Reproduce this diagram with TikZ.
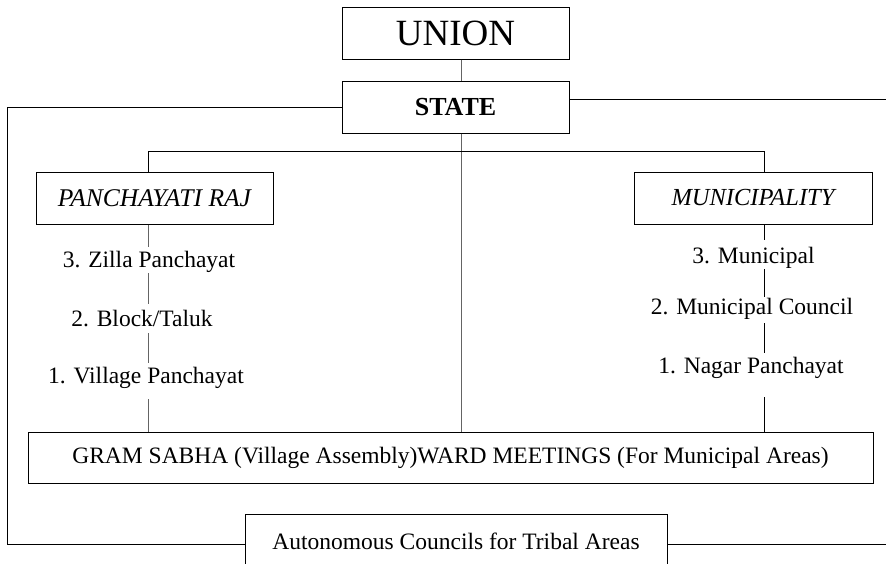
\documentclass[tikz,border=0pt]{standalone}
\usepackage{fontspec}
\setmainfont{Liberation Serif}
\usetikzlibrary{calc}
\definecolor{conn}{RGB}{100,100,100}
\tikzset{
  box/.style={draw=black, line width=1pt, inner sep=0pt, anchor=center},
  lbl/.style={inner sep=0pt, text height=16pt, text depth=5pt, anchor=center, font=\fontsize{23.5}{26}\selectfont},
  gline/.style={draw=conn, line width=1pt},
  bline/.style={draw=black, line width=1pt}
}
\begin{document}
\begin{tikzpicture}[x=1pt,y=-1pt]
\useasboundingbox (0,0) rectangle (886,563);
% main boxes
\node[box, minimum width=227pt, minimum height=52pt, font=\fontsize{37}{40}\selectfont] (union) at (455.5,33) {UNION};
\node[box, minimum width=227pt, minimum height=52pt, font=\fontsize{26}{29}\selectfont\bfseries] (state) at (455.5,107) {STATE};
\node[box, minimum width=237pt, minimum height=52pt, font=\fontsize{25.5}{28}\selectfont\itshape] (pr) at (154.5,198) {PANCHAYATI RAJ};
\node[box, minimum width=238pt, minimum height=52pt, font=\fontsize{24.5}{27}\selectfont\itshape] (mun) at (753,198) {MUNICIPALITY};
\node[box, minimum width=845pt, minimum height=51pt, font=\fontsize{23.5}{26}\selectfont] (gram) at (450.5,457.5) {GRAM SABHA (Village Assembly)WARD MEETINGS (For Municipal Areas)};
\node[box, minimum width=422pt, minimum height=60pt, font=\fontsize{23.5}{26}\selectfont, text depth=5pt] (auto) at (456,544) {Autonomous Councils for Tribal Areas};
% column labels
\node[lbl] (z3) at (149,261.5) {3. Zilla Panchayat};
\node[lbl] (z2) at (142,320.5) {2. Block/Taluk};
\node[lbl] (z1) at (146,377.5) {1. Village Panchayat};
\node[lbl] (m3) at (753.5,257.5) {3. Municipal};
\node[lbl] (m2) at (752,308.5) {2. Municipal Council};
\node[lbl] (m1) at (751,367.5) {1. Nagar Panchayat};
% helper coordinates
\coordinate (colL) at (148,0);
\coordinate (colM) at (461,0);
\coordinate (colR) at (764,0);
\coordinate (outerL) at (7,0);
\coordinate (rEnd) at (886,99);
\coordinate (rEndB) at (886,544);
% connectors
\draw[gline] (union.south -| colM) -- (state.north -| colM);
\draw[gline] (state.south -| colM) -- (gram.north -| colM);
\draw[bline] (pr.north -| colL) -- ++(0,-20) -| (mun.north -| colR);
% left column
\draw[gline] (pr.south -| colL) -- ($(z3.north -| colL)+(0,-4)$);
\draw[gline] ($(z3.south -| colL)+(0,1)$) -- ($(z2.north -| colL)+(0,-6)$);
\draw[gline] ($(z2.south -| colL)+(0,2)$) -- ($(z1.north -| colL)+(0,-4)$);
\draw[gline] ($(z1.south -| colL)+(0,11)$) -- (gram.north -| colL);
% right column
\draw[bline] (mun.south -| colR) -- ($(m3.north -| colR)+(0,-7)$);
\draw[bline] ($(m3.south -| colR)+(0,1)$) -- ($(m2.north -| colR)+(0,-1)$);
\draw[bline] ($(m2.south -| colR)+(0,4)$) -- ($(m1.north -| colR)+(0,-4)$);
\draw[bline] ($(m1.south -| colR)+(0,19)$) -- (gram.north -| colR);
% outer lines
\draw[bline] (state.west) -| (outerL |- auto.west) -- (auto.west);
\draw[bline] (state.east |- rEnd) -- (rEnd);
\draw[bline] (auto.east) -- (rEndB);
\end{tikzpicture}
\end{document}
